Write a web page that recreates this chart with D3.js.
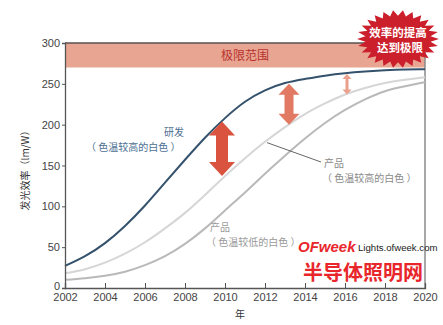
<!DOCTYPE html>
<html>
<head>
<meta charset="utf-8">
<script src="https://cdn.jsdelivr.net/npm/d3@7/dist/d3.min.js"></script>
<style>
  html, body { margin: 0; padding: 0; background: #fff; }
  svg { display: block; font-family: "Liberation Sans", Arial, "Noto Sans CJK SC", sans-serif; }
</style>
</head>
<body>
<svg id="chart" width="443" height="325"></svg>
<script>
// Luminous efficacy of white LEDs, lm/W, by year
const years = d3.range(2002, 2021);
const rdHighCT   = [27, 39, 55, 76, 101, 129, 157, 184, 208, 228, 242, 251, 256, 260, 263, 265, 266.5, 267.5, 268];
const prodHighCT = [18, 23, 31, 42, 56, 73, 92, 114, 137, 159, 179, 197, 213, 226, 237, 245, 251, 255, 258];
const prodLowCT  = [10, 12, 15, 20, 28, 39, 54, 73, 95, 117, 140, 162, 183, 202, 218, 231, 241, 247, 252];
const yTicks = [0, 50, 100, 150, 200, 250, 300];
const xTicks = [2002, 2004, 2006, 2008, 2010, 2012, 2014, 2016, 2018, 2020];
const limitBand = [270, 300];
// gaps between R&D and product curves
const gapArrows = [
  { year: 2009.85, from: 137, to: 204, size: "l" },
  { year: 2013.2,  from: 200, to: 250, size: "m" },
  { year: 2016.1,  from: 237, to: 262, size: "s" }
];

const svg = d3.select("#chart");
const x = d3.scaleLinear().domain([2002, 2020]).range([65, 425]);
const y = d3.scaleLinear().domain([0, 300]).range([288, 43]);
const cjk = "Noto Sans CJK SC";

// limit band
svg.append("rect")
  .attr("x", x(2002)).attr("width", x(2020) - x(2002))
  .attr("y", y(limitBand[1])).attr("height", y(limitBand[0]) - y(limitBand[1]))
  .attr("fill", "#e8a592");
svg.append("text")
  .attr("x", 245).attr("y", y(285) + 4.5)
  .attr("text-anchor", "middle")
  .attr("font-size", 12).attr("fill", "#b8332e")
  .attr("font-family", cjk)
  .text("极限范围");

// frame: top and right
svg.append("line")
  .attr("x1", x(2002)).attr("x2", x(2020)).attr("y1", y(300)).attr("y2", y(300))
  .attr("stroke", "#5a5050").attr("stroke-width", 1.3);
svg.append("line")
  .attr("x1", x(2020)).attr("x2", x(2020)).attr("y1", y(300)).attr("y2", y(0))
  .attr("stroke", "#8a8a8a").attr("stroke-width", 1.5);

// curves
const line = d3.line()
  .x((d, i) => x(years[i]))
  .y(d => y(d))
  .curve(d3.curveNatural);
[[prodLowCT, "#b9b9b9"], [prodHighCT, "#d6d6d6"], [rdHighCT, "#34526c"]].forEach(([vals, c]) => {
  svg.append("path").attr("d", line(vals))
    .attr("fill", "none").attr("stroke", c).attr("stroke-width", 2);
});

// double-headed arrows
const arrowStyle = {
  l: { shaft: 12, head: 26, len: 14, color: "#d9533f" },
  m: { shaft: 9,  head: 21, len: 11, color: "#e27a63" },
  s: { shaft: 3,  head: 9,  len: 5,  color: "#eaa08c" }
};
gapArrows.forEach(a => {
  const s = arrowStyle[a.size];
  const cx = x(a.year), y0 = y(a.to), y1 = y(a.from);
  const p = d3.path();
  p.moveTo(cx, y0);
  p.lineTo(cx + s.head / 2, y0 + s.len);
  p.lineTo(cx + s.shaft / 2, y0 + s.len);
  p.lineTo(cx + s.shaft / 2, y1 - s.len);
  p.lineTo(cx + s.head / 2, y1 - s.len);
  p.lineTo(cx, y1);
  p.lineTo(cx - s.head / 2, y1 - s.len);
  p.lineTo(cx - s.shaft / 2, y1 - s.len);
  p.lineTo(cx - s.shaft / 2, y0 + s.len);
  p.lineTo(cx - s.head / 2, y0 + s.len);
  p.closePath();
  svg.append("path").attr("d", p.toString()).attr("fill", s.color);
});

// leader line for the high colour temperature product
svg.append("line")
  .attr("x1", x(2012.1)).attr("y1", y(178)).attr("x2", 321).attr("y2", 162)
  .attr("stroke", "#555").attr("stroke-width", 0.9);

// curve labels
function label(tx, ty, lines, color) {
  const t = svg.append("text").attr("font-family", cjk).attr("font-size", 10)
    .attr("fill", color);
  lines.forEach((l, i) => {
    t.append("tspan").attr("x", tx + l[1]).attr("y", ty + i * 15).text(l[0]);
  });
}
label(164, 136, [["研发", 0], ["（ 色温较高的白色 ）", -78]], "#4d6f92");
label(324, 167, [["产品", 0], ["（ 色温较高的白色 ）", -2]], "#8a8a8a");
label(210, 231, [["产品", 0], ["（ 色温较低的白色 ）", -4]], "#9a9a9a");

// axes
const xAxis = d3.axisBottom(x).tickValues(xTicks).tickFormat(d3.format("d"))
  .tickSize(-5).tickPadding(5);
const gx = svg.append("g").attr("transform", `translate(0,${y(0)})`).call(xAxis);
const yAxis = d3.axisLeft(y).tickValues(yTicks).tickSize(3).tickPadding(2);
const gy = svg.append("g").attr("transform", `translate(${x(2002)},0)`).call(yAxis);
[gx, gy].forEach(g => {
  g.select(".domain").attr("stroke", "#555").attr("stroke-width", 1.3);
  g.selectAll(".tick line").attr("stroke", "#555");
  g.selectAll(".tick text").attr("fill", "#444").attr("font-size", 11)
    .attr("font-family", "Liberation Sans, Arial, sans-serif");
});
gy.selectAll(".tick text").filter(d => d === 0).attr("dy", "0.1em");

svg.append("text")
  .attr("transform", `translate(29,168) rotate(-90)`)
  .attr("text-anchor", "middle").attr("font-family", cjk).attr("font-size", 10)
  .attr("fill", "#333").text("发光效率（lm/W）");
svg.append("text")
  .attr("x", x(2010.75)).attr("y", 318).attr("text-anchor", "middle")
  .attr("font-family", cjk).attr("font-size", 10).attr("fill", "#333").text("年");

// starburst callout
const burst = { cx: 398, cy: 39, rx: 41, ry: 29, spikes: 26 };
const pts = d3.range(burst.spikes * 2).map(i => {
  const ang = (i / (burst.spikes * 2)) * 2 * Math.PI;
  const r = i % 2 === 0 ? 1 : 0.8;
  return [burst.cx + Math.cos(ang) * burst.rx * r, burst.cy + Math.sin(ang) * burst.ry * r];
});
svg.append("polygon").attr("points", pts.map(p => p.join(",")).join(" "))
  .attr("fill", "#cc1f2c");
svg.append("text").attr("text-anchor", "middle").attr("font-family", cjk)
  .attr("font-size", 11.5).attr("font-weight", "bold").attr("fill", "#fff")
  .selectAll("tspan").data(["效率的提高", "达到极限"]).join("tspan")
  .attr("x", (d, i) => burst.cx + (i ? 2 : 0)).attr("y", (d, i) => 37 + i * 15).text(d => d);

// site mark
svg.append("text").attr("x", 298).attr("y", 252)
  .attr("font-family", "Liberation Sans, Arial, sans-serif").attr("font-size", 15)
  .attr("font-weight", "bold").attr("font-style", "italic").attr("fill", "#e8262b")
  .text("OFweek");
svg.append("text").attr("x", 358).attr("y", 251)
  .attr("font-family", "Liberation Sans, Arial, sans-serif").attr("font-size", 9.6)
  .attr("fill", "#222").text("Lights.ofweek.com");
svg.append("text").attr("x", 303).attr("y", 280)
  .attr("font-family", cjk).attr("font-size", 20).attr("font-weight", "bold")
  .attr("fill", "#e8262b").text("半导体照明网");
</script>
</body>
</html>
